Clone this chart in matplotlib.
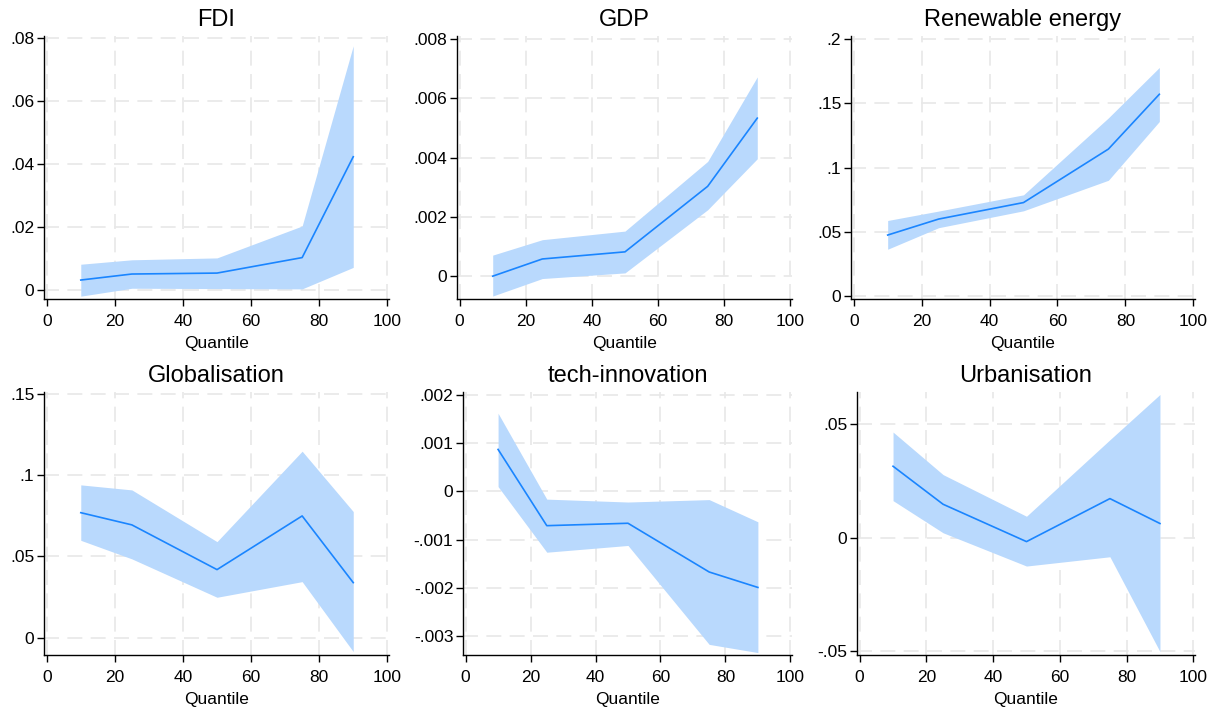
import matplotlib
matplotlib.use("Agg")
import matplotlib.pyplot as plt

plt.rcParams['font.family'] = ['Liberation Sans', 'DejaVu Sans']

# quantiles at which the coefficients were estimated
quantiles = [10, 25, 50, 75, 90]

titles = ['FDI', 'GDP', 'Renewable energy', 'Globalisation', 'tech-innovation', 'Urbanisation']

# coefficient estimates and confidence bands
fdi_coef = [0.0033, 0.0052, 0.0055, 0.0104, 0.0423]
fdi_hi = [0.0083, 0.0097, 0.0103, 0.0204, 0.0774]
fdi_lo = [-0.0018, 0.0007, 0.0006, 0.0005, 0.0073]

gdp_coef = [0.0, 0.00058, 0.00082, 0.00303, 0.00533]
gdp_hi = [0.00071, 0.00123, 0.00152, 0.00387, 0.00672]
gdp_lo = [-0.00067, -0.00008, 0.00011, 0.00224, 0.00396]

ren_coef = [0.0476, 0.0600, 0.0728, 0.1143, 0.1568]
ren_hi = [0.0589, 0.0662, 0.0788, 0.1385, 0.1776]
ren_lo = [0.0366, 0.0533, 0.0664, 0.0901, 0.1357]

glob_coef = [0.0768, 0.0693, 0.0418, 0.0748, 0.0338]
glob_hi = [0.0939, 0.0908, 0.0590, 0.1146, 0.0775]
glob_lo = [0.0598, 0.0484, 0.0248, 0.0344, -0.0086]

tech_coef = [0.00087, -0.00071, -0.00066, -0.00167, -0.00199]
tech_hi = [0.00162, -0.00016, -0.00022, -0.00017, -0.00063]
tech_lo = [0.00010, -0.00126, -0.00112, -0.00317, -0.00334]

urb_coef = [0.0315, 0.0147, -0.0018, 0.0172, 0.0062]
urb_hi = [0.0466, 0.0278, 0.0094, 0.0432, 0.0632]
urb_lo = [0.0163, 0.0021, -0.0126, -0.0085, -0.0504]

coefs = [fdi_coef, gdp_coef, ren_coef, glob_coef, tech_coef, urb_coef]
his = [fdi_hi, gdp_hi, ren_hi, glob_hi, tech_hi, urb_hi]
los = [fdi_lo, gdp_lo, ren_lo, glob_lo, tech_lo, urb_lo]

# y ticks and labels (Stata style, no leading zero)
yticks = [
    [0, 0.02, 0.04, 0.06, 0.08],
    [0, 0.002, 0.004, 0.006, 0.008],
    [0, 0.05, 0.1, 0.15, 0.2],
    [0, 0.05, 0.1, 0.15],
    [-0.003, -0.002, -0.001, 0, 0.001, 0.002],
    [-0.05, 0, 0.05],
]
ylabels = [
    ['0', '.02', '.04', '.06', '.08'],
    ['0', '.002', '.004', '.006', '.008'],
    ['0', '.05', '.1', '.15', '.2'],
    ['0', '.05', '.1', '.15'],
    ['-.003', '-.002', '-.001', '0', '.001', '.002'],
    ['-.05', '0', '.05'],
]
ylims = [
    (-0.0027, 0.0805),
    (-0.00077, 0.0081),
    (-0.002, 0.202),
    (-0.0107, 0.151),
    (-0.00339, 0.00206),
    (-0.0519, 0.0643),
]
xticks = [0, 20, 40, 60, 80, 100]

W, H = 1217, 709
# panel boxes in pixels: left, right, top, bottom
boxes = [
    (44, 389, 36, 299),
    (457, 792, 36, 299),
    (851, 1195, 36, 299),
    (44, 389, 392, 655),
    (463, 792, 392, 655),
    (857, 1195, 392, 655),
]

fig = plt.figure(figsize=(W / 100, H / 100), dpi=100)
fig.patch.set_facecolor('white')

fill_color = '#b9d9fd'
line_color = '#1a85ff'
grid_color = '#e8e8e8'

for i in range(6):
    l, r, t, b = boxes[i]
    ax = fig.add_axes([l / W, 1 - b / H, (r - l) / W, (b - t) / H])

    ax.fill_between(quantiles, los[i], his[i], color=fill_color, linewidth=0, zorder=2)
    ax.plot(quantiles, coefs[i], color=line_color, linewidth=1.2, zorder=3)

    ax.set_xlim(-0.8, 100.5)
    ax.set_ylim(*ylims[i])
    ax.set_xticks(xticks)
    ax.set_yticks(yticks[i])
    ax.set_yticklabels(ylabels[i])

    ax.grid(True, color=grid_color, linestyle=(0, (9, 5)), linewidth=1.2, zorder=0)
    ax.set_axisbelow(True)

    for side in ['top', 'right']:
        ax.spines[side].set_visible(False)
    for side in ['left', 'bottom']:
        ax.spines[side].set_linewidth(1.0)
        ax.spines[side].set_color('black')

    ax.tick_params(axis='y', direction='out', length=5, width=1, labelsize=12.5, pad=2)
    ax.tick_params(axis='x', direction='out', length=5, width=1, labelsize=12.5, pad=6)
    ax.set_title(titles[i], fontsize=17, pad=7)
    ax.set_xlabel('Quantile', fontsize=12.5, labelpad=5)

plt.savefig('out.png', dpi=100)
